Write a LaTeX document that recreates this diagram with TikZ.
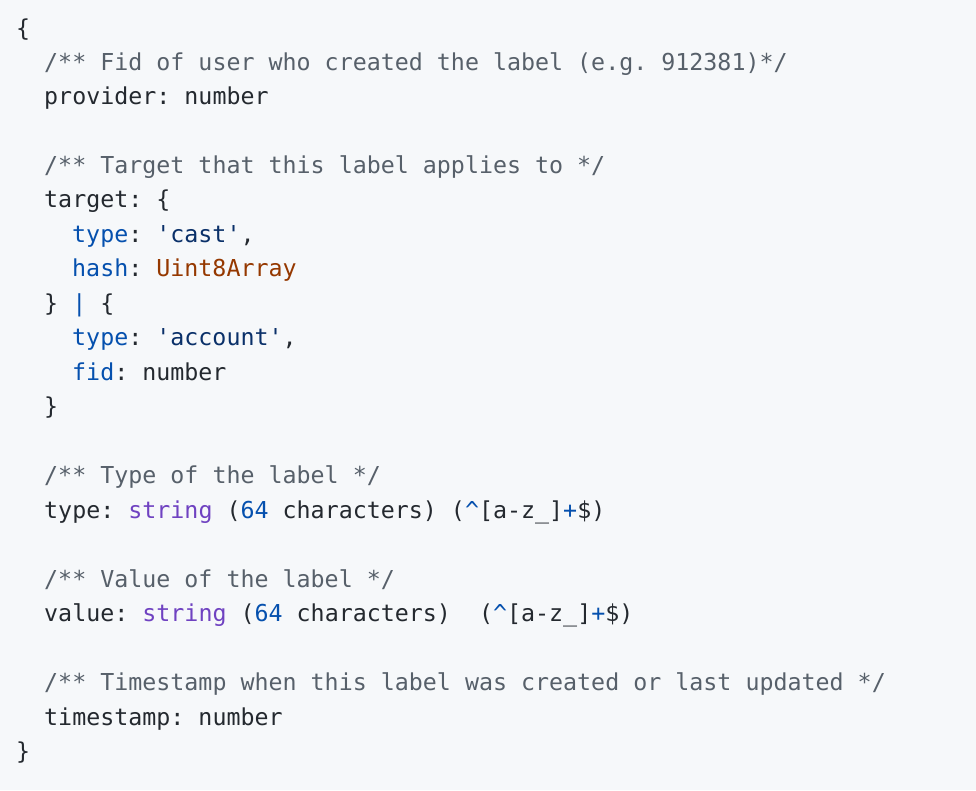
\documentclass[tikz,border=0pt]{standalone}
\usepackage{fontspec}
\setmonofont{DejaVu Sans Mono}
\definecolor{bg}{HTML}{F6F8FA}
\definecolor{txt}{HTML}{24292F}
\definecolor{cmt}{HTML}{57606A}
\definecolor{kw}{HTML}{0550AE}
\definecolor{str}{HTML}{0A3069}
\definecolor{ty}{HTML}{953800}
\definecolor{pur}{HTML}{6F42C1}
\newcommand{\cm}[1]{\textcolor{cmt}{#1}}
\newcommand{\kb}[1]{\textcolor{kw}{#1}}
\newcommand{\ks}[1]{\textcolor{str}{#1}}
\newcommand{\kp}[1]{\textcolor{pur}{#1}}
\begin{document}
\begin{tikzpicture}[x=1pt,y=-1pt,
  ln/.style={anchor=base west,inner sep=0pt,text=txt,font=\ttfamily\fontsize{23.3}{28}\selectfont}]
\fill[bg] (0,0) rectangle (976,790);
\path[use as bounding box] (0,0) rectangle (976,790);
\node[ln] (l1) at (16,36) {\{};
\node[ln] (l2) at (44,70) {\cm{/** Fid of user who created the label (e.g. 912381)*/}};
\node[ln] (l3) at (44,104) {provider: number};
\node[ln] (l5) at (44,173) {\cm{/** Target that this label applies to */}};
\node[ln] (l6) at (44,207) {target: \{};
\node[ln] (l7) at (72,242) {\kb{type}: \ks{'cast'},};
\node[ln] (l8) at (72,276) {\kb{hash}: \textcolor{ty}{Uint8Array}};
\node[ln] (l9) at (44,311) {\} \kb{|} \{};
\node[ln] (l10) at (72,345) {\kb{type}: \ks{'account'},};
\node[ln] (l11) at (72,380) {\kb{fid}: number};
\node[ln] (l12) at (44,414) {\}};
\node[ln] (l14) at (44,483) {\cm{/** Type of the label */}};
\node[ln] (l15) at (44,518) {type: \kp{string} (\kb{64} characters) (\kb{\textasciicircum}[a-z\_]\kb{+}\$)};
\node[ln] (l17) at (44,587) {\cm{/** Value of the label */}};
\node[ln] (l18) at (44,621) {value: \kp{string} (\kb{64} characters)~~(\kb{\textasciicircum}[a-z\_]\kb{+}\$)};
\node[ln] (l20) at (44,690) {\cm{/** Timestamp when this label was created or last updated */}};
\node[ln] (l21) at (44,725) {timestamp: number};
\node[ln] (l22) at (16,759) {\}};
\end{tikzpicture}
\end{document}
